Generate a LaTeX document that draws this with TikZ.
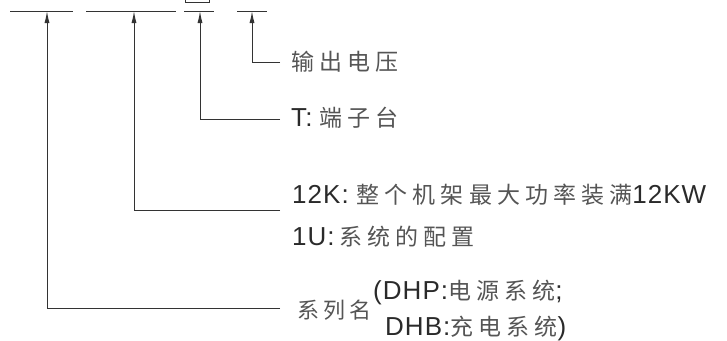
\documentclass[tikz,border=0pt]{standalone}
\usepackage{fontspec}
\setmainfont{Liberation Sans}[LetterSpace=4]
\newfontfamily\cjkfont[LetterSpace=22]{Noto Sans CJK SC}
\newfontfamily\cjkfontb[LetterSpace=18]{Noto Sans CJK SC}
\usetikzlibrary{arrows.meta}
\definecolor{linecol}{HTML}{333333}
\definecolor{zhgray}{HTML}{555555}
\definecolor{latcol}{HTML}{2A2A2A}
\newcommand\zh[1]{{\cjkfont\fontsize{23}{27}\selectfont\color{zhgray}#1}}
\newcommand\zhb[1]{{\cjkfontb\fontsize{22}{26}\selectfont\color{zhgray}#1}}
\tikzset{
  lbl/.style={anchor=west,inner sep=0pt,text=latcol,font=\fontsize{26}{30}\selectfont},
  uline/.style={draw=linecol,line width=1pt},
  arr/.style={draw=linecol,line width=1pt,-{Latex[length=12pt,width=5pt]}}
}
\begin{document}
\begin{tikzpicture}[x=1pt,y=-1pt]
\useasboundingbox (0,0) rectangle (727,340);
% underline segments
\coordinate (s1a) at (10,11);  \coordinate (s1b) at (73,11);
\coordinate (s2a) at (86,11);  \coordinate (s2b) at (176,11);
\coordinate (s3a) at (184,11); \coordinate (s3b) at (214,11);
\coordinate (s4a) at (237,11); \coordinate (s4b) at (267,11);
\draw[uline] (s1a) -- (s1b);
\draw[uline] (s2a) -- (s2b);
\draw[uline] (s3a) -- (s3b);
\draw[uline] (s4a) -- (s4b);
% small box at top
\node[draw=linecol,line width=1pt,minimum width=24pt,minimum height=10pt,inner sep=0pt,anchor=south] (box) at (197,3) {};
% arrow targets on underlines
\coordinate (u1) at (47,11);
\coordinate (u2) at (134,11);
\coordinate (u3) at (200,11);
\coordinate (u4) at (252,11);
% bend ends
\coordinate (c1) at (280,308);
\coordinate (c2) at (280,210);
\coordinate (c3) at (280,119);
\coordinate (c4) at (280,62);
% labels
\node[lbl] (t4) at (291,62) {\zh{输出电压}};
\node[lbl] (t3) at (291,118) {T:\hspace{7pt}\zh{端子台}};
\node[lbl] (t2a) at (292,195) {12K:\hspace{8pt}\zh{整个机架最大功率装满}12KW};
\node[lbl] (t2b) at (292,237) {1U:\hspace{5pt}\zh{系统的配置}};
\node[lbl] (t1) at (297,310) {\zhb{系列名}};
\node[lbl] (t1a) at (373,292) {(DHP:\zh{电源系统};};
\node[lbl] (t1b) at (385,328) {DHB:\zh{充电系统})};
% connectors
\draw[arr] (c1) -| (u1);
\draw[arr] (c2) -| (u2);
\draw[arr] (c3) -| (u3);
\draw[arr] (c4) -| (u4);
\end{tikzpicture}
\end{document}
